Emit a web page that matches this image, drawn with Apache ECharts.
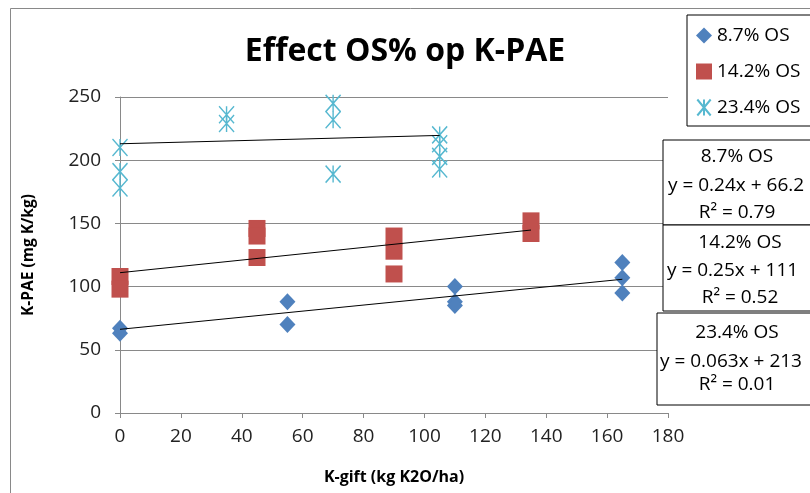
<!DOCTYPE html>
<html>
<head>
<meta charset="utf-8">
<script src="https://cdn.jsdelivr.net/npm/echarts@6/dist/echarts.min.js"></script>
<style>
  html, body { margin: 0; padding: 0; background: #fff; }
  #chart { width: 810px; height: 493px; }
</style>
</head>
<body>
<div id="chart"></div>
<script>
// series
const seriesNames = ['8.7% OS', '14.2% OS', '23.4% OS'];
const os87X = [0, 0, 55, 55, 110, 110, 110, 165, 165, 165];
const os87Y = [67, 63, 88, 70, 100, 88, 85, 119, 107, 95];
const os142X = [0, 0, 45, 45, 45, 90, 90, 90, 135, 135];
const os142Y = [108, 98, 146, 140, 123, 140, 128, 110, 152, 142];
const os234X = [0, 0, 0, 35, 35, 70, 70, 70, 105, 105, 105, 105];
const os234Y = [210, 191, 178, 236, 229, 245, 232, 189, 220, 213, 203, 193];

// trendline coefficients (from the equation boxes)
const slopes = [0.24, 0.25, 0.063];
const intercepts = [66.2, 111, 213];
const eqLines = ['y = 0.24x + 66.2', 'y = 0.25x + 111', 'y = 0.063x + 213'];
const r2Lines = ['R² = 0.79', 'R² = 0.52', 'R² = 0.01'];

const xTicks = { min: 0, max: 180, step: 20 };
const yTicks = { min: 0, max: 250, step: 50 };

const font = "'Open Sans', 'Noto Sans', sans-serif";
const gridGray = '#898989';

const pairs = (xs, ys) => xs.map((x, i) => [x, ys[i]]);
const trend = (xs, k) => {
  const lo = Math.min(...xs), hi = Math.max(...xs);
  return [[lo, slopes[k] * lo + intercepts[k]], [hi, slopes[k] * hi + intercepts[k]]];
};

const allX = [os87X, os142X, os234X];
const trendSeries = allX.map((xs, k) => ({
  type: 'line',
  data: trend(xs, k),
  symbol: 'none',
  lineStyle: { color: '#000', width: 1 },
  z: 5,
  silent: true
}));

const myChart = echarts.init(document.getElementById('chart'));

// equation text boxes on the right
const boxes = [
  { x: 663, y: 140, h: 85, cx: 737, eqX: 668 },
  { x: 663, y: 225, h: 86, cx: 740, eqX: 667 },
  { x: 657, y: 313, h: 92, cx: 737, eqX: 660 }
];
const lineOffs = [[17, 46, 73], [18, 46, 73], [20, 49, 72]];
const graphics = [
  {
    type: 'rect', left: 8, top: 6, z: 0, silent: true,
    shape: { width: 900, height: 600 },
    style: { fill: 'none', stroke: gridGray, lineWidth: 1 }
  }
];
boxes.forEach((b, k) => {
  graphics.push({
    type: 'rect', z: 100, silent: true,
    shape: { x: b.x, y: b.y, width: 200, height: b.h },
    style: { fill: '#fff', stroke: '#000', lineWidth: 1 }
  });
  const lines = [
    { t: seriesNames[k], x: b.cx, align: 'center' },
    { t: eqLines[k], x: b.eqX, align: 'left' },
    { t: r2Lines[k], x: b.cx, align: 'center' }
  ];
  lines.forEach((ln, i) => {
    graphics.push({
      type: 'text', z: 101, silent: true,
      style: {
        text: ln.t, x: ln.x, y: b.y + lineOffs[k][i],
        fill: '#000', fontSize: 19, fontFamily: font,
        textAlign: ln.align, textVerticalAlign: 'middle', verticalAlign: 'middle'
      }
    });
  });
});

myChart.setOption({
  animation: false,
  backgroundColor: '#fff',
  title: {
    text: 'Effect OS% op K-PAE',
    left: 'center',
    top: 31,
    textStyle: { fontFamily: font, fontSize: 32, fontWeight: 'bold', color: '#000' }
  },
  legend: {
    data: seriesNames,
    orient: 'vertical',
    left: 687,
    top: 15,
    padding: [11, 30, 9, 9],
    itemGap: 17,
    itemWidth: 16,
    itemHeight: 16,
    borderColor: '#000',
    borderWidth: 1,
    backgroundColor: '#fff',
    textStyle: { fontFamily: font, fontSize: 19, color: '#000' }
  },
  grid: { left: 120, right: 142, top: 97, bottom: 80 },
  xAxis: {
    type: 'value',
    min: xTicks.min,
    max: xTicks.max,
    interval: xTicks.step,
    name: 'K-gift (kg K2O/ha)',
    nameLocation: 'middle',
    nameGap: 56,
    nameTextStyle: { fontFamily: font, fontSize: 16, fontWeight: 'bold', color: '#000' },
    axisLine: { lineStyle: { color: gridGray } },
    axisTick: { show: true, length: 5, lineStyle: { color: gridGray } },
    axisLabel: { fontFamily: font, fontSize: 19, color: '#222', margin: 14 },
    splitLine: { show: false }
  },
  yAxis: {
    type: 'value',
    min: yTicks.min,
    max: yTicks.max,
    interval: yTicks.step,
    name: 'K-PAE (mg K/kg)',
    nameLocation: 'middle',
    nameGap: 83,
    nameTextStyle: { fontFamily: font, fontSize: 15.5, fontWeight: 'bold', color: '#000' },
    axisLine: { show: true, lineStyle: { color: gridGray } },
    axisTick: { show: true, length: 5, lineStyle: { color: gridGray } },
    axisLabel: { fontFamily: font, fontSize: 19, color: '#222', margin: 19 },
    splitLine: { lineStyle: { color: gridGray, width: 1 } }
  },
  series: [
    {
      name: seriesNames[0],
      type: 'scatter',
      data: pairs(os87X, os87Y),
      symbol: 'diamond',
      symbolSize: [16, 17],
      itemStyle: { color: '#4F81BD', opacity: 1 },
      z: 3
    },
    {
      name: seriesNames[1],
      type: 'scatter',
      data: pairs(os142X, os142Y),
      symbol: 'rect',
      symbolSize: 17,
      itemStyle: { color: '#C0504D', opacity: 1 },
      z: 3
    },
    {
      name: seriesNames[2],
      type: 'scatter',
      data: pairs(os234X, os234Y),
      symbol: 'path://M0,0L10,12M10,0L0,12M5,0L5,12',
      symbolSize: [15, 17],
      itemStyle: { color: 'rgba(0,0,0,0)', borderColor: '#56B8D0', borderWidth: 1.5, opacity: 1 },
      z: 3
    }
  ].concat(trendSeries),
  graphic: graphics
});
</script>
</body>
</html>
